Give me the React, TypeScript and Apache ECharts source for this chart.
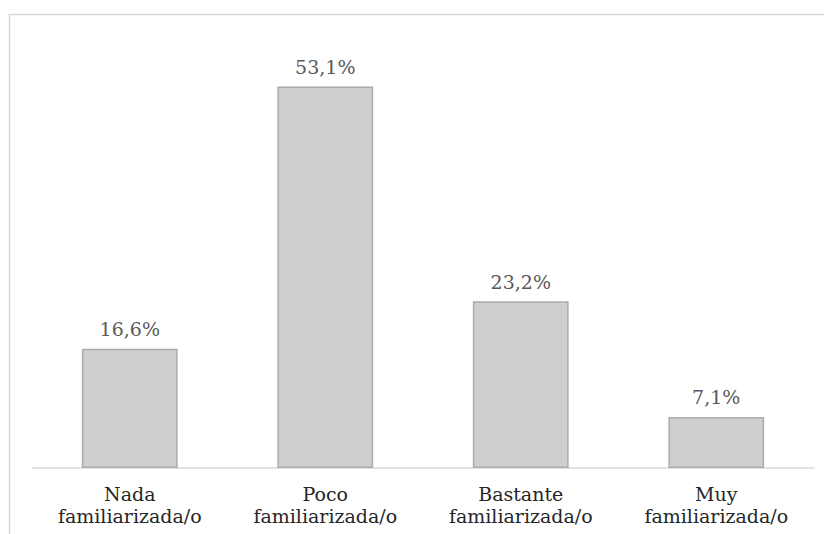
import React, { useEffect, useRef } from "react";
import * as echarts from "echarts";

const categories = [
  "Nada\nfamiliarizada/o",
  "Poco\nfamiliarizada/o",
  "Bastante\nfamiliarizada/o",
  "Muy\nfamiliarizada/o",
];
const values = [16.6, 53.1, 23.2, 7.1];

const FONT = "'DejaVu Serif', serif";

export default function App() {
  const ref = useRef<HTMLDivElement>(null);

  useEffect(() => {
    if (!ref.current) return;
    const chart = echarts.init(ref.current, null, { renderer: "svg" });
    chart.setOption({
      animation: false,
      backgroundColor: "#ffffff",
      graphic: [
        {
          type: "rect",
          shape: { x: 9.5, y: 14.5, width: 830, height: 530 },
          style: { fill: "none", stroke: "#d9d9d9", lineWidth: 1.5 },
          silent: true,
        },
      ],
      grid: { left: 32, right: 10, top: 37, bottom: 66, containLabel: false },
      xAxis: {
        type: "category",
        data: categories,
        axisLine: { lineStyle: { color: "#d9d9d9", width: 1.5 } },
        axisTick: { show: false },
        axisLabel: {
          color: "#262626",
          fontFamily: FONT,
          fontSize: 19,
          lineHeight: 22,
          margin: 15,
          interval: 0,
        },
      },
      yAxis: {
        type: "value",
        min: 0,
        max: 60,
        show: false,
        splitLine: { show: false },
      },
      series: [
        {
          type: "bar",
          data: values,
          barWidth: "49%",
          itemStyle: { color: "#d0cece", borderColor: "#aeaaaa", borderWidth: 1.5 },
          label: {
            show: true,
            position: "top",
            distance: 10,
            color: "#595959",
            fontFamily: FONT,
            fontSize: 19,
            formatter: (p: any) => p.value.toFixed(1).replace(".", ",") + "%",
          },
        },
      ],
    });
    return () => chart.dispose();
  }, []);

  return (
    <div
      ref={ref}
      style={{ position: "fixed", left: 0, top: 0, width: 824, height: 534 }}
    />
  );
}
